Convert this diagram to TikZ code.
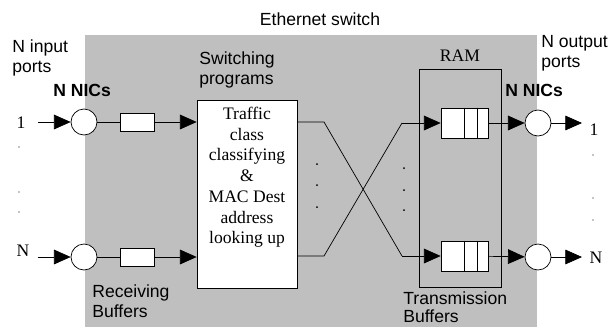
\documentclass[tikz,border=0pt]{standalone}
\usepackage{fontspec}
\setmainfont{Liberation Serif}
\setsansfont{Liberation Sans}
\usetikzlibrary{arrows.meta}

\tikzset{
  lbl/.style={font=\sffamily\fontsize{15}{17.5}\selectfont, align=left, inner sep=0pt, anchor=north west},
  boldlbl/.style={lbl, font=\sffamily\bfseries\fontsize{15}{17.5}\selectfont},
  num/.style={font=\fontsize{15}{17}\selectfont, inner sep=0pt, anchor=base},
  nic/.style={draw, circle, fill=white, minimum size=26*0.03cm, inner sep=0pt},
  rbuf/.style={draw, fill=white, minimum width=34*0.03cm, minimum height=18*0.03cm, inner sep=0pt},
  tbuf/.style={draw, fill=white, minimum width=47*0.03cm, minimum height=30*0.03cm, inner sep=0pt},
  flow/.style={-{Triangle[length=0.5cm,width=0.44cm]}}
}

\begin{document}
\begin{tikzpicture}[x=0.03cm, y=-0.03cm, line width=0.6pt]
% Page size and switch area
\path[use as bounding box, clip] (0,0) rectangle (614,327);
\fill[black!25] (85,35) rectangle (537,327);
\node[lbl, anchor=base] (title) at (320,25) {Ethernet switch};

% Input side
\node[lbl] (inports) at (12,39) {N input\\ports};
\node[boldlbl] (innics) at (53,84) {N NICs};
\node[num] (in1) at (21,128) {1};
\node[num] (inN) at (23,256) {N};
\coordinate (a1) at (38,122);
\coordinate (aN) at (38,257);
\node[nic] (nicA) at (84,122) {};
\node[nic] (nicB) at (84,257) {};
\node[rbuf] (rb1) at (137,122) {};
\node[rbuf] (rbN) at (137,257) {};
\foreach \y in {147,192,212} \fill (19,\y) circle (0.7);
\node[lbl] (recv) at (92,284) {Receiving\\Buffers};

% Switching programs
\node[lbl] (swlbl) at (199,51) {Switching\\programs};
\node[draw, fill=white, minimum width=100*0.03cm, minimum height=188*0.03cm, inner sep=0pt,
      align=center, font=\fontsize{15}{17.7}\selectfont] (sw) at (247,194)
      {Traffic\\class\\classifying\\\&\\MAC Dest\\address\\looking up\\[14pt]};

\draw[flow] (a1) -- (nicA);
\draw[flow] (aN) -- (nicB);
\draw (nicA) -- (rb1);
\draw (nicB) -- (rbN);
\draw[flow] (rb1) -- (rb1 -| sw.west);
\draw[flow] (rbN) -- (rbN -| sw.west);

% RAM with transmission buffers
\draw (419,69) rectangle (501,287);
\node[num] (ram) at (460,61) {RAM};
\node[tbuf] (q1) at (464.5,123) {};
\node[tbuf] (qN) at (464.5,256) {};
\draw (q1.north) ++(-0.2,0) -- ++(0,30) (q1.north) ++(13.2,0) -- ++(0,30);
\draw (qN.north) ++(-0.2,0) -- ++(0,30) (qN.north) ++(13.2,0) -- ++(0,30);
\node[lbl, font=\sffamily\fontsize{15}{16}\selectfont] (trans) at (403,291) {Transmission\\Buffers};

% Crossing lines
\coordinate (c1) at (324,122);
\coordinate (c2) at (324,256);
\coordinate (d1) at (402,123);
\coordinate (d2) at (402,256);
\draw (sw.east |- c1) -- (c1) -- (d2);
\draw (sw.east |- c2) -- (c2) -- (d1);
\draw[flow] (d1) -- (q1);
\draw[flow] (d2) -- (qN);
\foreach \y in {164,185,207} \fill (317,\y) circle (1);
\foreach \y in {168,190,210} \fill (404,\y) circle (1);

% Output side
\node[lbl] (outports) at (541,35) {N output\\ports};
\node[boldlbl] (outnics) at (505,84) {N NICs};
\node[nic] (nicC) at (538,123) {};
\node[nic] (nicD) at (538,257) {};
\coordinate (b1) at (582,123);
\coordinate (bN) at (582,257);
\draw[flow] (q1) -- (nicC);
\draw[flow] (qN) -- (nicD);
\draw[flow] (nicC) -- (b1);
\draw[flow] (nicD) -- (bN);
\node[num] (out1) at (594,135) {1};
\node[num] (outN) at (596,263) {N};
\foreach \y in {155,198,220} \fill (593,\y) circle (0.7);
\end{tikzpicture}
\end{document}
